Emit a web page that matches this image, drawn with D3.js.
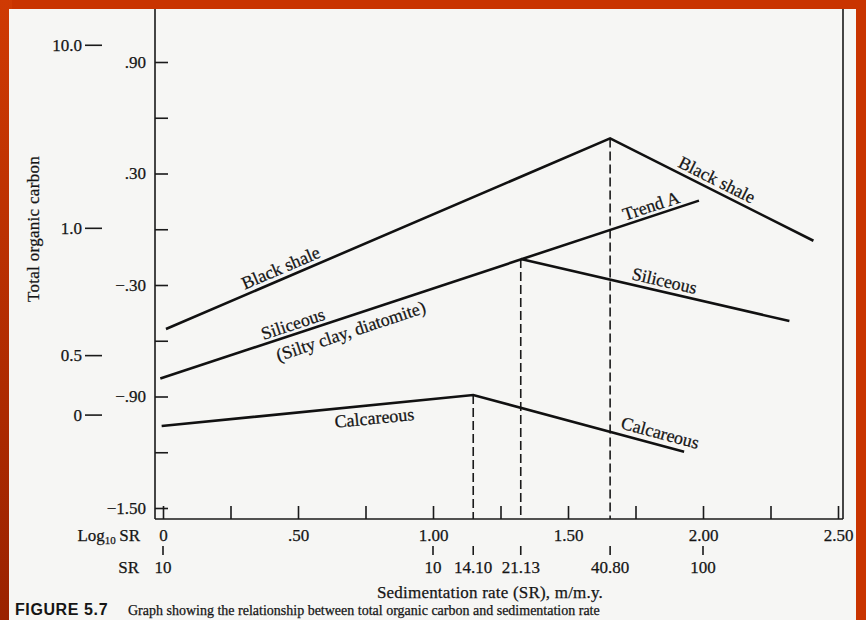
<!DOCTYPE html>
<html>
<head>
<meta charset="utf-8">
<script src="https://cdn.jsdelivr.net/npm/d3@7"></script>
<style>
  html, body { margin: 0; padding: 0; background: #c93400; }
  svg { display: block; }
  text { font-family: "Liberation Serif", "DejaVu Serif", serif; fill: #151515; stroke: #151515; stroke-width: 0.25; }
</style>
</head>
<body>
<svg id="chart" width="866" height="620"></svg>
<script>
// ---- data ----
const xTickValues = [0, 0.25, 0.5, 0.75, 1.0, 1.25, 1.5, 1.75, 2.0, 2.25, 2.5];
const xTickLabels = ["0", "", ".50", "", "1.00", "", "1.50", "", "2.00", "", "2.50"];
const yTickValues = [0.9, 0.6, 0.3, 0.0, -0.3, -0.6, -0.9, -1.2, -1.5];
const yTickLabels = [".90", "", ".30", "", "\u2212.30", "", "\u2212.90", "", "\u22121.50"];
const tocLabels = ["10.0", "1.0", "0.5", "0"];
const tocPositions = [0.99, 0.005, -0.68, -1.0];
const srLabels = ["10", "10", "14.10", "21.13", "40.80", "100"];
const srPositions = [0, 1.0, 1.149, 1.325, 1.656, 2.0];

// series: [log10 SR, value on inner scale]
const blackShale = [[0.011, -0.537], [1.656, 0.489], [2.409, -0.062]];
const siliceous = [[-0.01, -0.803], [1.325, -0.160], [2.320, -0.494]];
const trendA = [[1.325, -0.160], [1.985, 0.154]];
const calcareous = [[-0.005, -1.059], [1.149, -0.892], [1.930, -1.197]];
const peaks = [[1.149, -0.892], [1.325, -0.160], [1.656, 0.489]];

// line labels: text, x position along the segment, segment, baseline offset (px, perpendicular)
const lineLabels = [
  {text: "Black shale", at: 0.452, seg: [blackShale[0], blackShale[1]], off: -5},
  {text: "Siliceous", at: 0.493, seg: [siliceous[0], siliceous[1]], off: -4},
  {text: "(Silty clay, diatomite)", at: 0.678, seg: [siliceous[0], siliceous[1]], off: 21},
  {text: "Trend A", at: 1.819, seg: trendA, off: -4},
  {text: "Black shale", at: 2.033, seg: [blackShale[1], blackShale[2]], off: -5},
  {text: "Siliceous", at: 1.848, seg: [siliceous[1], siliceous[2]], off: -5},
  {text: "Calcareous", at: 0.778, seg: [calcareous[0], calcareous[1]], off: 19},
  {text: "Calcareous", at: 1.830, seg: [calcareous[1], calcareous[2]], off: -6}
];

// ---- drawing ----
const svg = d3.select("#chart");

svg.append("rect").attr("x", 0).attr("y", 0).attr("width", 866).attr("height", 620).attr("fill", "#c93400");
const defs = svg.append("defs");
const g1 = defs.append("linearGradient").attr("id", "leftEdge").attr("x1", 0).attr("y1", 0).attr("x2", 0).attr("y2", 1);
g1.append("stop").attr("offset", "0%").attr("stop-color", "#cf3a03");
g1.append("stop").attr("offset", "100%").attr("stop-color", "#9a2200");
svg.append("rect").attr("x", 0).attr("y", 0).attr("width", 12).attr("height", 620).attr("fill", "url(#leftEdge)");
svg.append("rect").attr("x", 9).attr("y", 9).attr("width", 847).attr("height", 611).attr("fill", "#f6f6f4");

const x = d3.scaleLinear().domain([0, 2.5]).range([163, 838]);
const y = d3.scaleLinear().domain([-1.5, 0.9]).range([508, 62]);

const axisX = 155, bottomY = 519, rightX = 843, topY = 9;

// frame lines
const frame = svg.append("g").attr("stroke", "#1a1a1a").attr("stroke-width", 1.6).attr("fill", "none");
frame.append("line").attr("x1", axisX).attr("x2", axisX).attr("y1", topY).attr("y2", bottomY);
frame.append("line").attr("x1", axisX).attr("x2", rightX).attr("y1", bottomY).attr("y2", bottomY);
frame.append("line").attr("x1", rightX).attr("x2", rightX).attr("y1", topY).attr("y2", bottomY);

// inner y axis (ticks pointing right)
const yAxis = d3.axisLeft(y)
  .tickValues(yTickValues)
  .tickSizeInner(-13).tickSizeOuter(0).tickPadding(9)
  .tickFormat((d, i) => yTickLabels[i]);
const gy = svg.append("g").attr("transform", `translate(${axisX},0)`).call(yAxis);
gy.select(".domain").remove();
gy.selectAll(".tick line").attr("stroke", "#1a1a1a").attr("stroke-width", 1.6);
gy.selectAll(".tick text").style("font-family", "Liberation Serif").attr("font-size", 17).attr("fill", "#151515");

// outer TOC labels
const outer = svg.append("g");
tocLabels.forEach((lab, i) => {
  const yy = y(tocPositions[i]);
  outer.append("text").attr("x", 82).attr("y", yy).attr("dy", "0.34em")
    .attr("text-anchor", "end").attr("font-size", 17).text(lab);
  outer.append("line").attr("x1", 85).attr("x2", 102).attr("y1", yy).attr("y2", yy)
    .attr("stroke", "#1a1a1a").attr("stroke-width", 1.6);
});

// y title
svg.append("text")
  .attr("transform", "translate(39,229) rotate(-90)")
  .attr("text-anchor", "middle").attr("font-size", 17).attr("letter-spacing", 0.3)
  .text("Total organic carbon");

// bottom axis (ticks pointing up)
const xAxis = d3.axisBottom(x)
  .tickValues(xTickValues)
  .tickSizeInner(-13).tickSizeOuter(0).tickPadding(10)
  .tickFormat((d, i) => xTickLabels[i]);
const gx = svg.append("g").attr("transform", `translate(0,${bottomY})`).call(xAxis);
gx.select(".domain").remove();
gx.selectAll(".tick line").attr("stroke", "#1a1a1a").attr("stroke-width", 1.6);
gx.selectAll(".tick text").style("font-family", "Liberation Serif").attr("font-size", 17).attr("fill", "#151515");

// Log10 SR label
const logLab = svg.append("text").attr("x", 140).attr("y", 541).attr("text-anchor", "end").attr("font-size", 17);
logLab.append("tspan").text("Log");
logLab.append("tspan").attr("font-size", 11).attr("dy", 3).text("10");
logLab.append("tspan").attr("dy", -3).text("\u2009SR");

// second row: SR values
const srG = svg.append("g");
srPositions.forEach((p, i) => {
  srG.append("line").attr("x1", x(p)).attr("x2", x(p)).attr("y1", 546).attr("y2", 555)
    .attr("stroke", "#1a1a1a").attr("stroke-width", 1.6);
  srG.append("text").attr("x", x(p)).attr("y", 573).attr("text-anchor", "middle")
    .attr("font-size", 17).text(srLabels[i]);
});
svg.append("text").attr("x", 139).attr("y", 573).attr("text-anchor", "end").attr("font-size", 17).text("SR");

// x title
svg.append("text").attr("x", 490).attr("y", 598).attr("text-anchor", "middle")
  .attr("font-size", 17).attr("letter-spacing", 0.2)
  .text("Sedimentation rate (SR), m/m.y.");

// dashed verticals from peaks
svg.append("g").selectAll("line").data(peaks).join("line")
  .attr("x1", d => x(d[0])).attr("x2", d => x(d[0]))
  .attr("y1", d => y(d[1])).attr("y2", bottomY)
  .attr("stroke", "#1a1a1a").attr("stroke-width", 1.6).attr("stroke-dasharray", "9,4");

// series lines
const line = d3.line().x(d => x(d[0])).y(d => y(d[1]));
const lines = svg.append("g").attr("fill", "none").attr("stroke", "#111").attr("stroke-width", 2.6)
  .attr("stroke-linejoin", "miter");
[blackShale, [siliceous[0], trendA[1]], [siliceous[1], siliceous[2]], calcareous].forEach(s => {
  lines.append("path").attr("d", line(s));
});

// line labels
lineLabels.forEach(l => {
  const [a, b] = l.seg;
  const x0 = x(a[0]), y0 = y(a[1]), x1 = x(b[0]), y1 = y(b[1]);
  const px = x(l.at);
  const py = y0 + (y1 - y0) * (px - x0) / (x1 - x0);
  const ang = Math.atan2(y1 - y0, x1 - x0) * 180 / Math.PI;
  svg.append("text")
    .attr("transform", `translate(${px},${py}) rotate(${ang})`)
    .attr("y", l.off)
    .attr("text-anchor", "middle").attr("font-size", 18)
    .text(l.text);
});

// caption (at the bottom edge of the scan)
svg.append("text").attr("x", 15).attr("y", 615)
  .style("font-family", "'Liberation Sans', Arial, sans-serif").attr("font-weight", "bold").attr("font-size", 16)
  .attr("letter-spacing", 0.6).style("stroke-width", 0).text("FIGURE 5.7");
svg.append("text").attr("x", 128).attr("y", 615).attr("font-size", 14)
  .text("Graph showing the relationship between total organic carbon and sedimentation rate");
</script>
</body>
</html>
